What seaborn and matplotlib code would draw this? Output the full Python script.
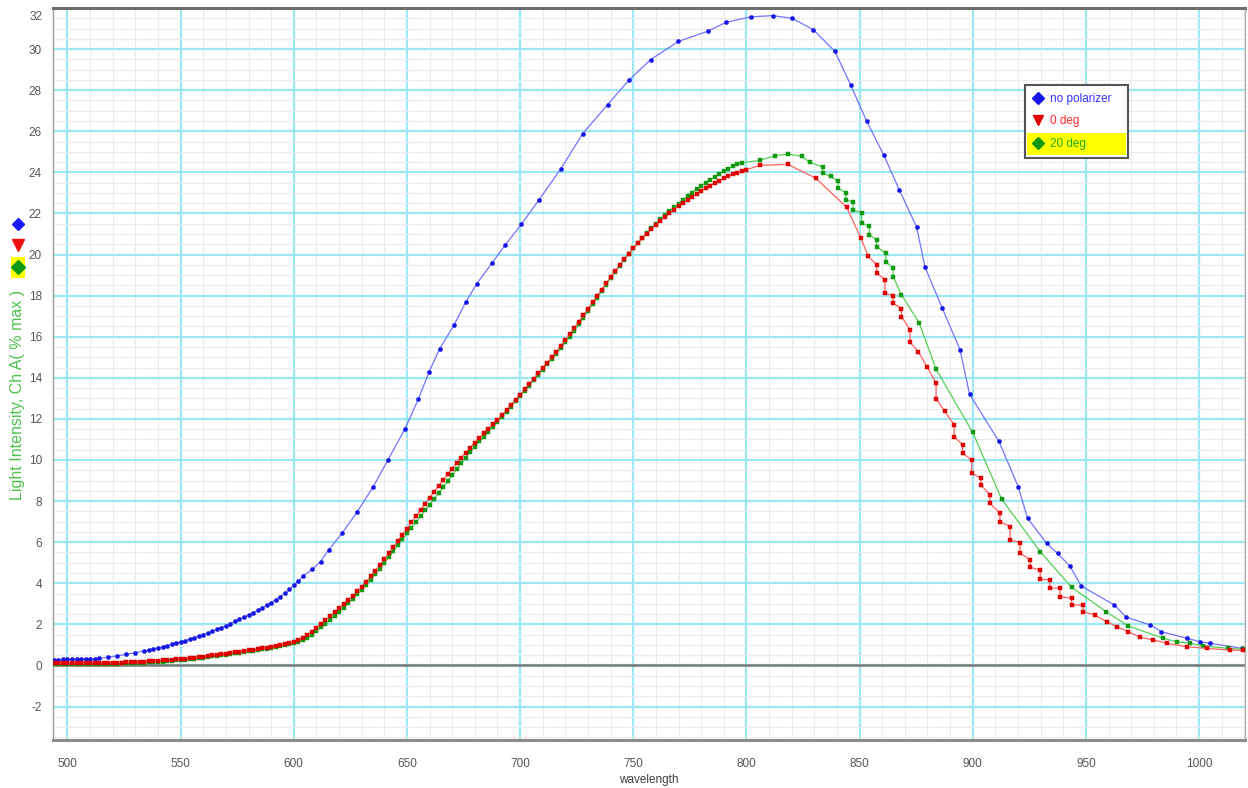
import numpy as np
import pandas as pd
import matplotlib
matplotlib.use("Agg")
import matplotlib.pyplot as plt
import seaborn as sns
from matplotlib.lines import Line2D
from matplotlib.patches import Rectangle
from matplotlib.ticker import MultipleLocator, FuncFormatter

# ---------------- data ----------------
# "no polarizer": densely sampled start, then sparse points
blue_x = [494, 496, 498, 500, 502, 504, 506, 508, 510, 512, 514,
          518, 522, 526, 530, 534,
          536, 538, 540, 542, 544, 546, 548, 550, 552, 554, 556, 558, 560,
          562, 564, 566, 568, 570, 572, 574, 576, 578, 580, 582, 584, 586,
          588, 590, 592, 594, 596, 598, 600, 602, 604,
          608.2, 611.8, 615.4, 621.5, 628.1, 635.0, 641.6, 649.2, 655.1,
          659.8, 664.4, 670.7, 675.9, 680.9, 687.6, 693.4, 700.6, 708.4,
          717.9, 727.7, 738.7, 748.0, 757.7, 769.9, 782.9, 791.1, 802.0,
          811.6, 820.1, 829.5, 839.1, 846.1, 853.2, 860.6, 867.5, 875.2,
          878.9, 886.5, 894.4, 898.6, 911.6, 920.1, 924.2, 932.6, 937.5,
          942.9, 947.9, 962.6, 967.9, 978.5, 983.4, 994.7, 1000.6, 1005.0,
          1019.0]
blue_y = [0.28, 0.28, 0.29, 0.29, 0.30, 0.30, 0.31, 0.31, 0.32, 0.33, 0.34,
          0.40, 0.47, 0.54, 0.62, 0.71,
          0.75, 0.80, 0.85, 0.90, 0.96, 1.02, 1.08, 1.15, 1.21, 1.28, 1.35, 1.42, 1.50,
          1.58, 1.66, 1.75, 1.84, 1.94, 2.04, 2.14, 2.25, 2.36, 2.45, 2.56, 2.68, 2.80,
          2.93, 3.06, 3.20, 3.35, 3.52, 3.70, 3.90, 4.10, 4.35,
          4.68, 5.05, 5.62, 6.46, 7.49, 8.68, 10.00, 11.53, 12.98,
          14.29, 15.40, 16.55, 17.67, 18.59, 19.59, 20.46, 21.48, 22.67,
          24.16, 25.89, 27.30, 28.48, 29.49, 30.37, 30.87, 31.31, 31.57,
          31.63, 31.50, 30.95, 29.89, 28.24, 26.48, 24.86, 23.16, 21.34,
          19.39, 17.40, 15.36, 13.20, 10.90, 8.70, 7.17, 5.95, 5.45,
          4.84, 3.87, 2.94, 2.34, 1.97, 1.64, 1.32, 1.15, 1.08,
          0.83]

# "0 deg"
red_dense_start, red_dense_step = 494, 2
red_dense_y = [0.10, 0.10, 0.10, 0.10, 0.10, 0.10, 0.11, 0.11, 0.11, 0.11,
               0.12, 0.12, 0.12, 0.13, 0.13, 0.14, 0.15, 0.16, 0.17, 0.18,
               0.19, 0.20, 0.21, 0.22, 0.24, 0.25, 0.27, 0.29, 0.31, 0.33,
               0.35, 0.38, 0.40, 0.43, 0.46, 0.49, 0.52, 0.55, 0.58, 0.61,
               0.64, 0.67, 0.70, 0.73, 0.76, 0.80, 0.83, 0.87, 0.91, 0.95,
               0.99, 1.03, 1.08, 1.14, 1.23, 1.34, 1.48, 1.65, 1.84, 2.02,
               2.20, 2.39, 2.58, 2.78, 2.97, 3.17, 3.38, 3.60, 3.83, 4.07,
               4.33, 4.60, 4.88, 5.17, 5.46, 5.76, 6.06, 6.36, 6.66, 6.96,
               7.26, 7.55, 7.85, 8.15, 8.45, 8.74, 9.02, 9.30, 9.58, 9.85,
               10.11, 10.36, 10.60, 10.84, 11.07, 11.30, 11.52, 11.74, 11.96, 12.19,
               12.43, 12.68, 12.93, 13.18, 13.44, 13.70, 13.96, 14.22, 14.48, 14.74,
               15.00, 15.27, 15.55, 15.84, 16.13, 16.43, 16.74, 17.05, 17.36, 17.67,
               17.98, 18.29, 18.60, 18.90, 19.20, 19.49, 19.77, 20.04, 20.30, 20.55,
               20.79, 21.02, 21.24, 21.45, 21.65, 21.84, 22.02, 22.19, 22.36, 22.52,
               22.67, 22.82, 22.96, 23.10, 23.23, 23.36, 23.48, 23.60, 23.71, 23.81,
               23.90, 23.98, 24.06, 24.13]
red_tail_x = [806.0, 818.2, 830.6, 844.3, 850.6, 853.8, 857.6, 857.6, 861.2, 861.2,
              864.8, 864.8, 868.5, 868.5, 872.3, 872.3, 875.9, 879.9, 883.8, 883.8,
              887.7, 891.8, 891.8, 895.5, 895.5, 899.5, 899.5, 903.6, 903.6, 907.6,
              907.6, 912.0, 912.0, 916.5, 916.5, 920.9, 920.9, 925.4, 925.4, 929.8,
              929.8, 934.0, 934.0, 938.6, 938.6, 943.7, 943.7, 948.8, 948.8, 954.0,
              959.2, 963.6, 968.7, 973.9, 979.8, 985.7, 994.5, 1003.4, 1013.6, 1019.5]
red_tail_y = [24.34, 24.39, 23.72, 22.30, 20.80, 19.91, 19.50, 19.10, 18.77, 18.12,
              18.00, 17.64, 17.37, 16.98, 16.34, 15.72, 15.28, 14.52, 13.74, 12.98,
              12.36, 11.71, 11.14, 10.74, 10.33, 10.00, 9.36, 9.11, 8.79, 8.30,
              7.89, 7.41, 7.00, 6.76, 6.11, 5.98, 5.46, 5.15, 4.77, 4.65,
              4.20, 4.16, 3.76, 3.76, 3.35, 3.27, 2.94, 2.94, 2.62, 2.45,
              2.13, 1.89, 1.64, 1.37, 1.24, 1.08, 0.91, 0.83, 0.75, 0.73]

# "20 deg"
green_dense_start, green_dense_step = 494, 2
green_dense_y = [0.05, 0.05, 0.05, 0.05, 0.05, 0.06, 0.06, 0.06, 0.06, 0.07,
                 0.07, 0.07, 0.08, 0.08, 0.09, 0.10, 0.10, 0.11, 0.12, 0.13,
                 0.14, 0.15, 0.16, 0.17, 0.19, 0.20, 0.22, 0.24, 0.26, 0.28,
                 0.30, 0.33, 0.35, 0.38, 0.41, 0.44, 0.47, 0.50, 0.53, 0.56,
                 0.59, 0.62, 0.65, 0.68, 0.71, 0.74, 0.78, 0.82, 0.86, 0.90,
                 0.94, 0.98, 1.02, 1.07, 1.14, 1.23, 1.35, 1.50, 1.67, 1.85,
                 2.03, 2.22, 2.41, 2.61, 2.81, 3.02, 3.24, 3.46, 3.69, 3.93,
                 4.18, 4.44, 4.71, 4.99, 5.27, 5.56, 5.85, 6.14, 6.43, 6.71,
                 6.99, 7.27, 7.55, 7.83, 8.11, 8.39, 8.68, 8.97, 9.26, 9.55,
                 9.84, 10.12, 10.39, 10.65, 10.90, 11.14, 11.38, 11.62, 11.86, 12.10,
                 12.35, 12.60, 12.85, 13.10, 13.36, 13.62, 13.88, 14.14, 14.40, 14.66,
                 14.92, 15.18, 15.45, 15.72, 16.00, 16.30, 16.61, 16.93, 17.25, 17.57,
                 17.89, 18.21, 18.53, 18.85, 19.16, 19.46, 19.75, 20.03, 20.30, 20.56,
                 20.81, 21.05, 21.28, 21.50, 21.71, 21.91, 22.10, 22.29, 22.48, 22.66,
                 22.84, 23.01, 23.18, 23.34, 23.50, 23.65, 23.79, 23.93, 24.06, 24.18,
                 24.29, 24.39, 24.47]
green_tail_x = [805.9, 812.5, 818.4, 824.4, 828.0, 833.7, 833.7, 837.2, 840.6, 840.6,
                843.9, 843.9, 847.2, 847.2, 850.9, 850.9, 854.3, 854.3, 857.5, 857.5,
                861.6, 861.6, 864.8, 864.8, 868.5, 876.3, 883.8, 900.0, 912.8, 929.8,
                943.7, 958.9, 968.7, 984.2, 990.1, 996.0, 1001.9, 1013.0, 1019.5]
green_tail_y = [24.58, 24.81, 24.89, 24.78, 24.49, 24.26, 23.97, 23.80, 23.56, 23.24,
                23.00, 22.67, 22.54, 22.18, 22.02, 21.53, 21.37, 20.96, 20.72, 20.39,
                20.07, 19.66, 19.34, 18.93, 18.04, 16.68, 14.42, 11.34, 8.09, 5.54,
                3.80, 2.62, 1.92, 1.32, 1.15, 1.08, 0.95, 0.83, 0.78]

series_names = ["no polarizer", "0 deg", "20 deg"]
y_ticks = list(range(-2, 33, 2))
x_ticks = list(range(500, 1001, 50))
y_label = "Light Intensity, Ch A( % max )"
x_label = "wavelength"

# ---------------- assemble ----------------
red_x = [red_dense_start + red_dense_step * i for i in range(len(red_dense_y))] + red_tail_x
red_y = red_dense_y + red_tail_y
green_x = [green_dense_start + green_dense_step * i for i in range(len(green_dense_y))] + green_tail_x
green_y = green_dense_y + green_tail_y

frames = {
    series_names[0]: pd.DataFrame({"wavelength": blue_x, "value": blue_y}),
    series_names[1]: pd.DataFrame({"wavelength": red_x, "value": red_y}),
    series_names[2]: pd.DataFrame({"wavelength": green_x, "value": green_y}),
}

styles = {
    series_names[0]: dict(line="#7373ff", mark="#1515e6", marker="o", ms=3.0, text="#3333ff", lm="D"),
    series_names[1]: dict(line="#ff6060", mark="#e00000", marker="s", ms=2.6, text="#ff2a2a", lm="v"),
    series_names[2]: dict(line="#55d055", mark="#119911", marker="s", ms=2.6, text="#22aa22", lm="D"),
}

sns.set_theme(style="white")
plt.rcParams["font.family"] = ["Liberation Sans", "DejaVu Sans"]

W, H = 1248, 788
fig = plt.figure(figsize=(W / 100, H / 100), dpi=100)
fig.patch.set_facecolor("white")
ax = fig.add_axes([53 / W, 1 - 740 / H, (1245 - 53) / W, (740 - 8) / H])
ax.set_facecolor("white")

# grid
ax.xaxis.set_major_locator(MultipleLocator(50))
ax.xaxis.set_minor_locator(MultipleLocator(10))
ax.yaxis.set_major_locator(MultipleLocator(2))
ax.yaxis.set_minor_locator(MultipleLocator(0.5))
ax.grid(which="minor", color="#ebebeb", lw=0.8)
ax.grid(which="major", color="#9be7f2", lw=1.6)
ax.set_axisbelow(True)
ax.axhline(0, color="#7a7a7a", lw=1.8, zorder=1.5)

for name in [series_names[0], series_names[2], series_names[1]]:
    st = styles[name]
    sns.lineplot(data=frames[name], x="wavelength", y="value", ax=ax,
                 estimator=None, sort=False, color=st["line"], lw=0.9,
                 marker=st["marker"], markersize=st["ms"],
                 markerfacecolor=st["mark"], markeredgecolor=st["mark"],
                 markeredgewidth=0.3, legend=False, zorder=3)

ax.set_xlim(493.6, 1020.3)
ax.set_ylim(-3.63, 32.0)

# ticks
ax.set_xticks(x_ticks)
ax.set_yticks(y_ticks)
ax.yaxis.set_major_formatter(FuncFormatter(lambda v, p: "" if v >= 32 else f"{v:g}"))
ax.tick_params(axis="both", which="both", direction="out", colors="#8a8a8a",
               labelcolor="#555555", labelsize=8.5)
ax.tick_params(axis="both", which="major", length=4, width=1)
ax.tick_params(axis="both", which="minor", length=2.5, width=0.8)
ax.tick_params(axis="x", which="major", pad=9)
ax.tick_params(axis="y", which="major", pad=4)
# top label sits just inside the frame
ax.annotate("32", xy=(0, 32), xycoords=("axes fraction", "data"),
            xytext=(-10, -9), textcoords="offset pixels",
            ha="right", va="center", fontsize=8.5, color="#555555")

ax.set_xlabel(x_label, fontsize=8.5, color="#404040", labelpad=3)
ax.set_ylabel("")

for side, c, w in [("left", "#9a9a9a", 1.0), ("bottom", "#8c8c8c", 2.2),
                   ("top", "#6e6e6e", 2.2), ("right", "#b0b0b0", 1.0)]:
    ax.spines[side].set_visible(True)
    ax.spines[side].set_color(c)
    ax.spines[side].set_linewidth(w)

# vertical axis title with series symbols
fig.text(18 / W, 1 - 395 / H, y_label, rotation=90, ha="center", va="center",
         fontsize=11.5, color="#4cc24c")
fig.add_artist(Line2D([18 / W], [1 - 224 / H], marker="D", ms=6, color="#1a1aff",
                      transform=fig.transFigure, ls="none"))
fig.add_artist(Line2D([18 / W], [1 - 245 / H], marker="v", ms=8, color="#ee1111",
                      transform=fig.transFigure, ls="none"))
fig.add_artist(Rectangle((11 / W, 1 - 278 / H), 14 / W, 21 / H, transform=fig.transFigure,
                         facecolor="#ffff00", edgecolor="none"))
fig.add_artist(Line2D([18 / W], [1 - 267 / H], marker="D", ms=7, color="#119911",
                      transform=fig.transFigure, ls="none"))

# legend
handles = [Line2D([], [], ls="none", marker=styles[n]["lm"], ms=6.5,
                  color=styles[n]["mark"]) for n in series_names]
leg = ax.legend(handles, series_names, loc="upper left",
                bbox_to_anchor=(1025 / W, 1 - 85 / H), bbox_transform=fig.transFigure,
                borderaxespad=0, fontsize=8.5, handlelength=0.9, handletextpad=0.6,
                labelspacing=0.9, borderpad=0.65, fancybox=False, frameon=True,
                edgecolor="#555555", labelcolor=[styles[n]["text"] for n in series_names])
leg.get_frame().set_facecolor("none")
leg.get_frame().set_linewidth(1.5)

fig.canvas.draw()
inv = fig.transFigure.inverted()
fb = leg.get_frame().get_window_extent()
tb = leg.get_texts()[2].get_window_extent()
# widen the frame to the right a little
extra = 8
(fx0, fy0), (fx1, fy1) = inv.transform([[fb.x0, fb.y0], [fb.x1 + extra, fb.y1]])
(tx0, ty0), (tx1, ty1) = inv.transform([[fb.x0 + 2, tb.y0 - 5], [fb.x1 + extra - 2, tb.y1 + 5]])
leg.remove()
fig.add_artist(Rectangle((fx0, fy0), fx1 - fx0, fy1 - fy0, transform=fig.transFigure,
                         facecolor="white", edgecolor="#555555", lw=1.5, zorder=15))
fig.add_artist(Rectangle((tx0, ty0), tx1 - tx0, ty1 - ty0, transform=fig.transFigure,
                         facecolor="#ffff00", edgecolor="none", zorder=16))
leg.get_frame().set_edgecolor("none")
fig.add_artist(leg)
leg.set_zorder(20)

fig.savefig("out.png", dpi=100)
